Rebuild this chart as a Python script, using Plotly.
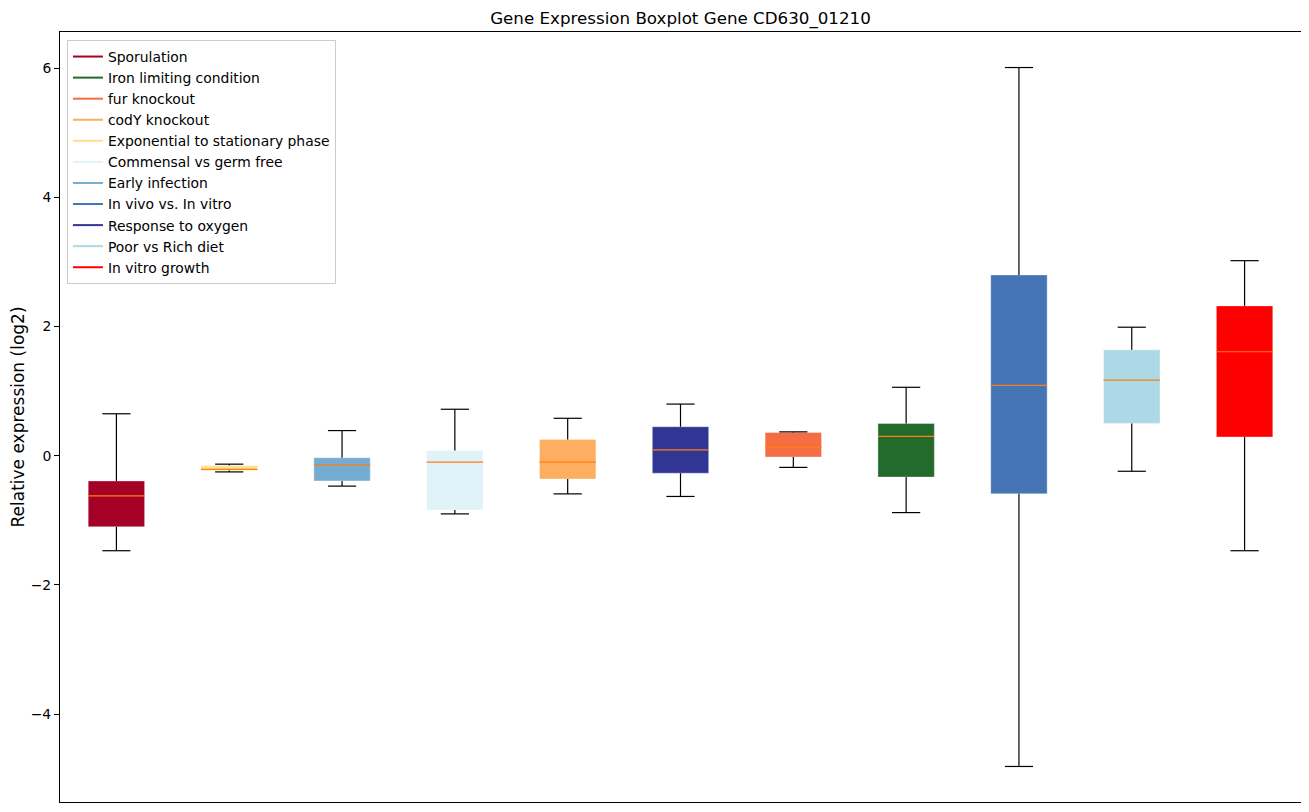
import plotly.graph_objects as go

# Data (box order along the x axis)
groups = ["Sporulation", "Exponential to stationary phase", "Early infection",
          "Commensal vs germ free", "codY knockout", "Response to oxygen",
          "fur knockout", "Iron limiting condition", "In vivo vs. In vitro",
          "Poor vs Rich diet", "In vitro growth"]
whisk_low = [-1.47, -0.25, -0.47, -0.90, -0.59, -0.63, -0.18, -0.88, -4.81, -0.24, -1.47]
q1        = [-1.10, -0.23, -0.39, -0.84, -0.36, -0.27, -0.02, -0.33, -0.59, 0.50, 0.29]
median    = [-0.62, -0.21, -0.14, -0.10, -0.10, 0.09, 0.13, 0.30, 1.09, 1.17, 1.61]
q3        = [-0.39, -0.15, -0.03, 0.08, 0.25, 0.45, 0.36, 0.50, 2.80, 1.64, 2.32]
whisk_high = [0.65, -0.13, 0.39, 0.72, 0.58, 0.80, 0.37, 1.06, 6.01, 1.99, 3.02]

colors = {
    "Sporulation": "#a50026",
    "Iron limiting condition": "#226b2d",
    "fur knockout": "#f46d43",
    "codY knockout": "#fdae61",
    "Exponential to stationary phase": "#fee090",
    "Commensal vs germ free": "#e0f3f8",
    "Early infection": "#74add1",
    "In vivo vs. In vitro": "#4575b4",
    "Response to oxygen": "#313695",
    "Poor vs Rich diet": "#add8e6",
    "In vitro growth": "#ff0000",
}
legend_order = ["Sporulation", "Iron limiting condition", "fur knockout", "codY knockout",
                "Exponential to stationary phase", "Commensal vs germ free", "Early infection",
                "In vivo vs. In vitro", "Response to oxygen", "Poor vs Rich diet", "In vitro growth"]

ytick_vals = [-4, -2, 0, 2, 4, 6]
ytick_text = ["\u22124", "\u22122", "0", "2", "4", "6"]

positions = list(range(1, len(groups) + 1))
box_w = 0.5
cap_w = 0.25

fig = go.Figure()

# boxes
fig.add_trace(go.Bar(
    x=positions,
    y=[b - a for a, b in zip(q1, q3)],
    base=q1,
    width=box_w,
    marker=dict(color=[colors[g] for g in groups],
                line=dict(color="rgba(255,255,255,0.6)", width=0.6)),
    showlegend=False,
    hoverinfo="skip",
))

# whiskers and caps
wx, wy = [], []
for p, lo, a, b, hi in zip(positions, whisk_low, q1, q3, whisk_high):
    wx += [p, p, None, p, p, None]
    wy += [a, lo, None, b, hi, None]
    wx += [p - cap_w / 2, p + cap_w / 2, None, p - cap_w / 2, p + cap_w / 2, None]
    wy += [lo, lo, None, hi, hi, None]
fig.add_trace(go.Scatter(x=wx, y=wy, mode="lines", line=dict(color="black", width=1.2),
                         showlegend=False, hoverinfo="skip"))

# medians
mx, my = [], []
for p, m in zip(positions, median):
    mx += [p - box_w / 2, p + box_w / 2, None]
    my += [m, m, None]
fig.add_trace(go.Scatter(x=mx, y=my, mode="lines", line=dict(color="#ff7f0e", width=1.2),
                         showlegend=False, hoverinfo="skip"))

# legend entries
for g in legend_order:
    fig.add_trace(go.Scatter(x=[None], y=[None], mode="lines", name=g,
                             line=dict(color=colors[g], width=2)))

fig.update_layout(
    width=1301, height=804,
    margin=dict(l=52, r=8, t=24, b=10),
    paper_bgcolor="white", plot_bgcolor="white",
    font=dict(family="DejaVu Sans", size=13.9, color="black"),
    title=dict(text="Gene Expression Boxplot Gene CD630_01210", x=0.5, xanchor="center",
               xref="paper", y=0.9876, yanchor="middle", font=dict(size=16.7)),
    showlegend=True,
    legend=dict(x=0.0056, y=0.9896, xanchor="left", yanchor="top",
                bgcolor="white", bordercolor="#cccccc", borderwidth=1,
                font=dict(size=13.9), tracegroupgap=0),
    barmode="overlay",
)
fig.update_xaxes(range=[0.5, 11.5], showticklabels=False, ticks="", showgrid=False,
                 zeroline=False, showline=True, linecolor="black", linewidth=1, mirror=True)
fig.update_yaxes(range=[-5.36, 6.56], tickvals=ytick_vals, ticktext=ytick_text,
                 ticks="outside", ticklen=5, tickcolor="black", showgrid=False, zeroline=False,
                 showline=True, linecolor="black", linewidth=1, mirror=True, automargin=False,
                 title=dict(text="Relative expression (log2)", standoff=10))

fig.write_html("out.html")
